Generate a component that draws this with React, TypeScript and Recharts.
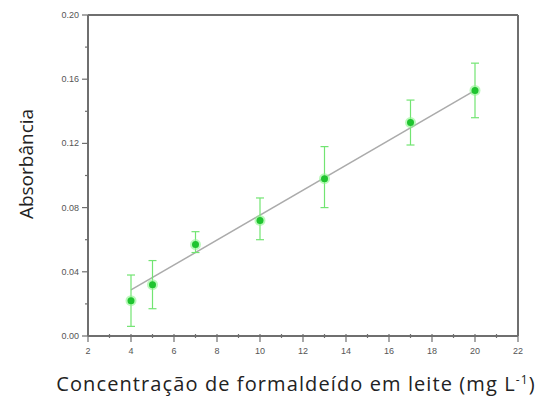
import {
  ComposedChart,
  Scatter,
  Line,
  XAxis,
  YAxis,
  ErrorBar,
  ReferenceLine,
} from "recharts";

const concentrations = [4, 5, 7, 10, 13, 17, 20];
const absorbance = [0.022, 0.032, 0.057, 0.072, 0.098, 0.133, 0.153];
const errorLow = [0.016, 0.015, 0.005, 0.012, 0.018, 0.014, 0.017];
const errorHigh = [0.016, 0.015, 0.008, 0.014, 0.020, 0.014, 0.017];

// linear fit drawn through the calibration points
const fitX = [4, 20];
const fitY = [0.0287, 0.153];

const xTicks = [2, 3, 4, 5, 6, 7, 8, 9, 10, 11, 12, 13, 14, 15, 16, 17, 18, 19, 20, 21, 22];
const yTicks = [0, 0.02, 0.04, 0.06, 0.08, 0.1, 0.12, 0.14, 0.16, 0.18, 0.2];

const points = concentrations.map((x, i) => ({
  x,
  y: absorbance[i],
  err: [errorLow[i], errorHigh[i]],
}));
const fit = fitX.map((x, i) => ({ x, y: fitY[i] }));

const axisColor = "#6f6f6f";
const labelColor = "#555";

const XTick = (props: any) => {
  const { x, y, payload } = props;
  const major = payload.value % 2 === 0;
  return (
    <g>
      <line x1={x} x2={x} y1={y - 2} y2={major ? y + 6 : y + 2} stroke={axisColor} strokeWidth={1.2} />
      {major && (
        <text x={x} y={y + 18} textAnchor="middle" fontSize={9} fill={labelColor} fontFamily="Liberation Sans, Arial, sans-serif">
          {payload.value}
        </text>
      )}
    </g>
  );
};

const YTick = (props: any) => {
  const { x, y, payload } = props;
  const major = Math.round(payload.value * 100) % 4 === 0;
  return (
    <g>
      <line x1={major ? x - 6 : x - 3} x2={x} y1={y} y2={y} stroke={axisColor} strokeWidth={1.2} />
      {major && (
        <text x={x - 9} y={y + 3} textAnchor="end" fontSize={9} fill={labelColor} fontFamily="Liberation Sans, Arial, sans-serif">
          {payload.value.toFixed(2)}
        </text>
      )}
    </g>
  );
};

const Dot = (props: any) => {
  const { cx, cy } = props;
  return (
    <g>
      <circle cx={cx} cy={cy} r={5.5} fill="#8ef58e" opacity={0.6} />
      <circle cx={cx} cy={cy} r={3.5} fill="#1fc42f" />
    </g>
  );
};

export default function App() {
  return (
    <div style={{ position: "absolute", left: 0, top: 0, width: 538, height: 398, background: "#fff" }}>
      <ComposedChart width={538} height={398} margin={{ top: 15, right: 20, bottom: 0, left: 0 }}>
        <XAxis
          xAxisId="b"
          dataKey="x"
          type="number"
          domain={[2, 22]}
          ticks={xTicks}
          interval={0}
          tickSize={0}
          tickMargin={0}
          tick={<XTick />}
          tickLine={false}
          axisLine={{ stroke: axisColor, strokeWidth: 2 }}
          height={62}
          allowDataOverflow
        />
        <YAxis
          yAxisId="l"
          type="number"
          domain={[0, 0.2]}
          ticks={yTicks}
          interval={0}
          tickSize={0}
          tickMargin={0}
          tick={<YTick />}
          tickLine={false}
          axisLine={{ stroke: axisColor, strokeWidth: 2 }}
          width={88}
          allowDataOverflow
        />
        <ReferenceLine xAxisId="b" yAxisId="l" y={0.2} stroke={axisColor} strokeWidth={2} />
        <ReferenceLine xAxisId="b" yAxisId="l" x={22} stroke={axisColor} strokeWidth={2} />
        <Line
          xAxisId="b"
          yAxisId="l"
          data={fit}
          dataKey="y"
          type="linear"
          stroke="#ababab"
          strokeWidth={1.5}
          dot={false}
          activeDot={false}
          isAnimationActive={false}
        />
        <Scatter
          xAxisId="b"
          yAxisId="l"
          data={points}
          dataKey="y"
          shape={<Dot />}
          isAnimationActive={false}
        >
          <ErrorBar dataKey="err" direction="y" width={4} stroke="#72e472" strokeWidth={1.2} />
        </Scatter>
        <text
          x={33}
          y={164}
          transform="rotate(-90 33 164)"
          textAnchor="middle"
          fontSize={19}
          fill="#222"
          fontFamily="Open Sans, sans-serif"
        >
          Absorbância
        </text>
        <text
          x={296}
          y={391}
          textAnchor="middle"
          fontSize={20}
          letterSpacing={1.1}
          fill="#222"
          fontFamily="Open Sans, sans-serif"
        >
          Concentração de formaldeído em leite (mg L
          <tspan dy={-7} fontSize={12}>-1</tspan>
          <tspan dy={7}>)</tspan>
        </text>
      </ComposedChart>
    </div>
  );
}
